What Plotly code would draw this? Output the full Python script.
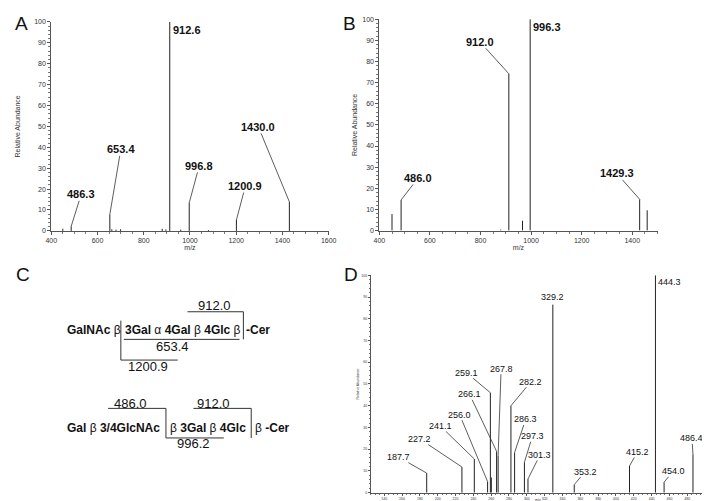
import plotly.graph_objects as go

W, H = 710, 501
FONT = "Arial, Liberation Sans, sans-serif"

# ---------------- data ----------------
# Panel A
A_mz = [450.0, 486.3, 653.4, 662.0, 680.0, 700.0, 880.0, 896.0, 912.6, 960.0, 996.8, 1080.0, 1200.9, 1430.0]
A_int = [1.0, 2.2, 7.9, 0.8, 0.6, 0.8, 1.0, 0.7, 100.0, 0.6, 13.4, 0.4, 5.2, 13.9]
A_labels = ["486.3", "653.4", "912.6", "996.8", "1200.9", "1430.0"]
A_lab_mz = [486.3, 653.4, 912.6, 996.8, 1200.9, 1430.0]
A_lab_int = [2.2, 7.9, 100.0, 13.4, 5.2, 13.9]

# Panel B
B_mz = [450.0, 486.0, 880.0, 912.0, 966.0, 996.3, 1429.3, 1459.0]
B_int = [7.8, 14.5, 0.5, 74.2, 4.7, 100.0, 14.8, 9.6]
B_labels = ["486.0", "912.0", "996.3", "1429.3"]
B_lab_mz = [486.0, 912.0, 996.3, 1429.3]
B_lab_int = [14.5, 74.2, 100.0, 14.8]

# Panel D
D_mz = [187.7, 227.2, 241.1, 256.0, 259.1, 260.2, 266.1, 267.8, 282.2, 286.3, 297.3, 301.3, 329.2, 353.2, 415.2, 444.3, 454.0, 486.4]
D_int = [9.0, 11.8, 15.5, 5.1, 46.0, 7.0, 19.0, 17.0, 40.0, 18.5, 14.0, 6.3, 86.5, 3.7, 12.3, 100.0, 4.8, 17.6]
D_labels = ["187.7", "227.2", "241.1", "256.0", "259.1", "266.1", "267.8", "282.2", "286.3",
            "297.3", "301.3", "329.2", "353.2", "415.2", "444.3", "454.0", "486.4"]
D_lab_mz = [187.7, 227.2, 241.1, 256.0, 259.1, 266.1, 267.8, 282.2, 286.3,
            297.3, 301.3, 329.2, 353.2, 415.2, 444.3, 454.0, 486.4]
D_lab_int = [9.0, 11.8, 15.5, 5.1, 46.0, 19.0, 17.0, 40.0, 18.5,
             14.0, 6.3, 86.5, 3.7, 12.3, 100.0, 4.8, 17.6]


def px(x):
    return x / W


def py(y):
    return 1 - y / H


def sticks(mz, inten):
    xs, ys = [], []
    for m, v in zip(mz, inten):
        xs += [m, m, None]
        ys += [0, v, None]
    return xs, ys


fig = go.Figure()

for xs_, ys_, xa, ya in [(A_mz, A_int, "x", "y"), (B_mz, B_int, "x2", "y2"), (D_mz, D_int, "x3", "y3")]:
    sx, sy = sticks(xs_, ys_)
    fig.add_trace(go.Scatter(x=sx, y=sy, mode="lines", line=dict(color="#222222", width=1),
                             xaxis=xa, yaxis=ya, showlegend=False, hoverinfo="skip"))

# ---------------- axes ----------------
def ax_style(size, dtick, minor_dtick, rng, domain, anchor, title, tsize, standoff, ticklen=3):
    return dict(range=rng, domain=domain, anchor=anchor, showgrid=False, zeroline=False,
                showline=True, linecolor="#555555", linewidth=1,
                ticks="outside", ticklen=ticklen, tickcolor="#555555", tickwidth=1,
                dtick=dtick, tick0=0, tickfont=dict(family=FONT, size=size, color="#333333"),
                minor=dict(dtick=minor_dtick, ticks="outside", ticklen=max(1, ticklen - 1), tickcolor="#777777"),
                title=dict(text=title, font=dict(family=FONT, size=tsize, color="#333333"), standoff=standoff))

fig.update_layout(
    width=W, height=H, margin=dict(l=0, r=0, t=0, b=0),
    paper_bgcolor="white", plot_bgcolor="white", showlegend=False,
    xaxis=ax_style(7, 200, 50, [400, 1600], [px(38), px(321)], "y", "m/z", 7, 1),
    yaxis=ax_style(7, 10, 2, [0, 100], [py(222), py(10)], "x", "Relative Abundance", 7, 12),
    xaxis2=ax_style(7, 200, 50, [400, 1500], [px(372.7), px(656.5)], "y2", "m/z", 7, 1),
    yaxis2=ax_style(7, 10, 2, [0, 100], [py(221.7), py(7.3)], "x2", "Relative Abundance", 7, 3),
    xaxis3=ax_style(3.5, 20, 5, [125, 500], [px(364), px(705)], "y3", "", 3.5, 0, 2),
    yaxis3=ax_style(3.5, 10, 2, [0, 100], [py(487.5), py(267)], "x3", "Relative Abundance", 3.5, 2, 2),
)

ann = []

def peak_labels(labels, mzs, ints, offsets, xa, ya, size, bold):
    for t, m, v, off in zip(labels, mzs, ints, offsets):
        txt = f"<b>{t}</b>" if bold else t
        if off is None:
            ann.append(dict(x=m, y=v, xref=xa, yref=ya, text=txt, showarrow=False,
                            xanchor="left", yanchor="top", xshift=1, yshift=0,
                            font=dict(family=FONT, size=size, color="#111111")))
        elif off == "top":
            ann.append(dict(x=m, y=v, xref=xa, yref=ya, text=txt, showarrow=False,
                            xanchor="center", yanchor="bottom", yshift=1,
                            font=dict(family=FONT, size=size, color="#111111")))
        else:
            ann.append(dict(x=m, y=v, xref=xa, yref=ya, text=txt, showarrow=True,
                            ax=off[0], ay=off[1], arrowhead=0, arrowwidth=0.8, arrowcolor="#333333",
                            standoff=0, startstandoff=0, borderpad=0,
                            font=dict(family=FONT, size=size, color="#111111")))

A_off = [(10, -32), (11, -65), None, (10, -37), (9, -34), (-31, -75)]
peak_labels(A_labels, A_lab_mz, A_lab_int, A_off, "x", "y", 11, True)
B_off = [(17, -22), (-29, -32), None, (-23, -26)]
peak_labels(B_labels, B_lab_mz, B_lab_int, B_off, "x2", "y2", 11, True)
D_off = [(-28, -16), (-42, -28), (-34, -33), (-28, -67), (-24, -20), (-27, -57), (3, -87),
         (20, -24), (11, -33), (8, -26), (12, -24), "top", (11, -13), (8, -14), None, (9, -11), (-1, -16)]
peak_labels(D_labels, D_lab_mz, D_lab_int, D_off, "x3", "y3", 9, False)

# D x-axis title (tiny, close to the bottom edge)
ann.append(dict(x=px(535), y=py(495), xref="paper", yref="paper", text="m/z", showarrow=False,
                xanchor="center", yanchor="middle", borderpad=0,
                font=dict(family=FONT, size=3.5, color="#333333")))

# panel letters
for letter, x, y in [("A", 8, 12), ("B", 342, 12), ("C", 9, 266), ("D", 344, 266)]:
    ann.append(dict(x=px(x), y=py(y), xref="paper", yref="paper", text=letter, showarrow=False,
                    xanchor="center", yanchor="middle", font=dict(family=FONT, size=19, color="#111111")))

# ---------------- panel C: structure diagram ----------------
def txt(x, y, s, size=13, anchor="left"):
    ann.append(dict(x=px(x), y=py(y), xref="paper", yref="paper", text=s, showarrow=False,
                    xanchor=anchor, yanchor="middle", font=dict(family=FONT, size=size, color="#111111")))

shapes = []

def seg(x0, y0, x1, y1):
    shapes.append(dict(type="line", xref="paper", yref="paper", x0=px(x0), y0=py(y0), x1=px(x1), y1=py(y1),
                       line=dict(color="#333333", width=1)))

# row 1
txt(52, 323, "<b>GalNAc</b> β", 12)
txt(111, 323, "<b>3Gal</b> α <b>4Gal</b> β <b>4Glc</b> β", 12)
txt(235, 323, "<b>-Cer</b>", 12)
txt(205, 298, "912.0", 13, "center")
seg(177, 304, 234, 304)
seg(234, 304, 234, 332)
seg(112, 332, 230, 332)
txt(162, 339, "653.4", 13, "center")
seg(109, 313, 109, 353)
seg(109, 353, 167, 353)
txt(137, 360, "1200.9", 13, "center")

# row 2
txt(52, 422, "<b>Gal</b> β <b>3/4GlcNAc</b>", 12)
txt(157, 422, "β <b>3Gal</b> β <b>4Glc</b>", 12)
txt(244, 422, "β <b>-Cer</b>", 12)
txt(119, 397, "486.0", 13, "center")
seg(96, 402, 155, 402)
seg(155, 402, 155, 432)
seg(155, 432, 214, 432)
txt(183, 438, "996.2", 13, "center")
txt(204, 397, "912.0", 13, "center")
seg(183, 402, 242, 402)
seg(242, 402, 242, 432)

fig.update_layout(annotations=ann, shapes=shapes)
fig.write_html("out.html")
